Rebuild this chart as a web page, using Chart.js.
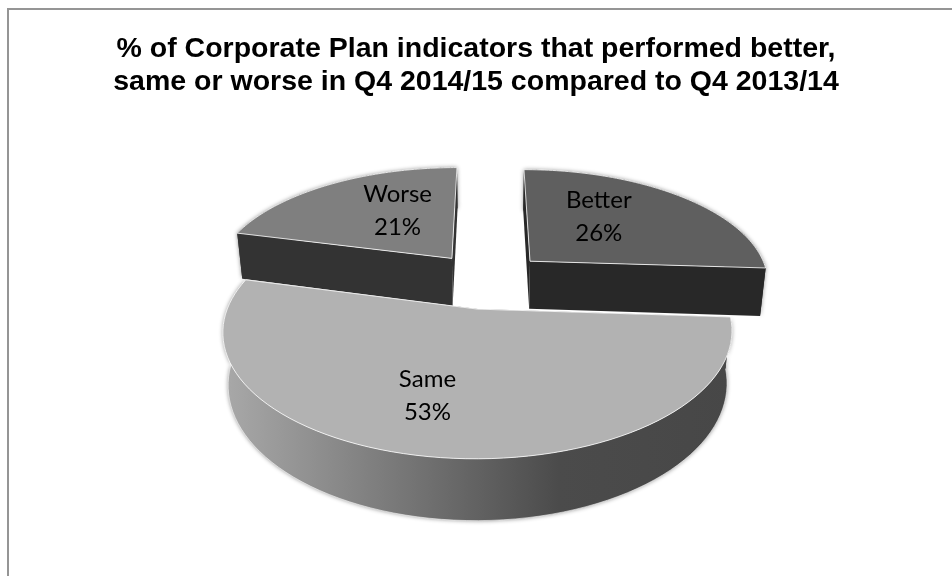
<!DOCTYPE html>
<html>
<head>
<meta charset="utf-8">
<title>Corporate Plan indicators</title>
<script src="https://cdn.jsdelivr.net/npm/chart.js@4/dist/chart.umd.min.js"></script>
<style>
  html, body { margin: 0; padding: 0; background: #fff; }
  #wrap { position: relative; width: 952px; height: 576px; }
</style>
</head>
<body>
<div id="wrap"><canvas id="planChart"></canvas></div>
<script>
const categories = ["Better", "Same", "Worse"];
const shares = [26, 53, 21];
const titleLines = [
  "% of Corporate Plan indicators that performed better,",
  "same or worse in Q4 2014/15 compared to Q4 2013/14",
];

const topShades = ["#5f5f5f", "#b2b2b2", "#7f7f7f"];
const wallShades = ["#282828", "#484848", "#333333"];
const sameWallStops = [[0, "#a9a9a9"], [0.66, "#4b4b4b"], [1, "#474747"]];

// where each label sits on its slice, in pie radii from the slice tip
const labelSpots = [
  { u: 0.33, v: 0.445 },
  { u: -0.174, v: -0.625 },
  { u: -0.265, v: 0.485 },
];

const explode = 0.25;
const view = { cx: 487.5, cy: 280, a: 240, b: 113, k: 0.17, horizon: -400 };
const depth = { taper: 0.98, drop: 0.072 };

function project(u, v) {
  const w = 1 + view.k * v;
  return [view.cx + (view.a * u) / w, view.cy - (view.b * v) / w];
}

// same spot on the underside of the pie
function lower([x, y]) {
  return [view.cx + (x - view.cx) * depth.taper, y + depth.drop * (y - view.horizon)];
}

function sliceGeometry(arc) {
  const mid = (arc.startAngle + arc.endAngle) / 2;
  const tipU = Math.cos(mid) * explode;
  const tipV = -Math.sin(mid) * explode;
  const rim = [];
  const steps = 80;
  for (let i = 0; i <= steps; i++) {
    const angle = arc.startAngle + ((arc.endAngle - arc.startAngle) * i) / steps;
    rim.push(project(tipU + Math.cos(angle), tipV - Math.sin(angle)));
  }
  return { tipU, tipV, tip: project(tipU, tipV), rim };
}

function fillPath(ctx, points, fillStyle) {
  ctx.beginPath();
  points.forEach(([x, y], i) => (i ? ctx.lineTo(x, y) : ctx.moveTo(x, y)));
  ctx.closePath();
  ctx.fillStyle = fillStyle;
  ctx.fill();
}

function drawSlice(ctx, arc, geo, index) {
  const { tip, rim } = geo;
  let wall = wallShades[index];
  if (categories[index] === "Same") {
    const xs = rim.map((p) => p[0]);
    wall = ctx.createLinearGradient(Math.min(...xs), 0, Math.max(...xs), 0);
    sameWallStops.forEach(([at, shade]) => wall.addColorStop(at, shade));
  }

  ctx.save();
  ctx.shadowColor = "rgba(0, 0, 0, 0.45)";
  ctx.shadowBlur = 4;
  fillPath(ctx, [...rim, ...rim.map(lower).reverse()], wall);
  ctx.restore();

  // thin light bevel along the bottom of the rim
  ctx.strokeStyle = "rgba(255, 255, 255, 0.55)";
  ctx.lineWidth = 1;
  ctx.beginPath();
  rim.map(lower).forEach(([x, y], i) => (i ? ctx.lineTo(x, y) : ctx.moveTo(x, y)));
  ctx.stroke();

  const first = rim[0];
  const last = rim[rim.length - 1];
  fillPath(ctx, [tip, first, lower(first), lower(tip)], wallShades[index]);
  fillPath(ctx, [tip, last, lower(last), lower(tip)], wallShades[index]);

  fillPath(ctx, [tip, ...rim], arc.options.backgroundColor);
  ctx.beginPath();
  ctx.moveTo(tip[0], tip[1]);
  rim.forEach(([x, y]) => ctx.lineTo(x, y));
  ctx.closePath();
  ctx.strokeStyle = "rgba(255, 255, 255, 0.8)";
  ctx.stroke();
}

const tiltedPie = {
  id: "tiltedPie",
  beforeDraw(chart) {
    // only the top and left edges of the frame are shown
    const { ctx, width, height } = chart;
    ctx.save();
    ctx.strokeStyle = "#959595";
    ctx.lineWidth = 2;
    ctx.beginPath();
    ctx.moveTo(8, height);
    ctx.lineTo(8, 9);
    ctx.lineTo(width, 9);
    ctx.stroke();
    ctx.restore();
  },
  beforeDatasetDraw(chart) {
    const ctx = chart.ctx;
    const arcs = chart.getDatasetMeta(0).data;
    const slices = arcs.map((arc, index) => ({ arc, index, geo: sliceGeometry(arc) }));
    const backToFront = [...slices].sort((left, right) => right.geo.tipV - left.geo.tipV);

    ctx.save();
    backToFront.forEach(({ arc, index, geo }) => drawSlice(ctx, arc, geo, index));

    ctx.fillStyle = "#000";
    ctx.font = "24px Lato";
    ctx.textAlign = "center";
    ctx.textBaseline = "middle";
    slices.forEach(({ index, geo }) => {
      const spot = labelSpots[index];
      const [x, y] = project(geo.tipU + spot.u, geo.tipV + spot.v);
      ctx.fillText(categories[index], x, y - 16.5);
      ctx.fillText(`${shares[index]}%`, x, y + 16.5);
    });
    ctx.restore();
    return false;
  },
};

new Chart(document.getElementById("planChart"), {
  type: "pie",
  data: {
    labels: categories,
    datasets: [{ data: shares, backgroundColor: topShades, borderWidth: 0 }],
  },
  options: {
    responsive: true,
    maintainAspectRatio: false,
    animation: false,
    events: [],
    plugins: {
      legend: { display: false },
      tooltip: { enabled: false },
      title: {
        display: true,
        text: titleLines,
        color: "#000",
        font: { family: "'Liberation Sans'", size: 28.5, weight: "bold", lineHeight: 1.14 },
        padding: { top: 33, bottom: 10 },
      },
    },
  },
  plugins: [tiltedPie],
});
</script>
</body>
</html>
